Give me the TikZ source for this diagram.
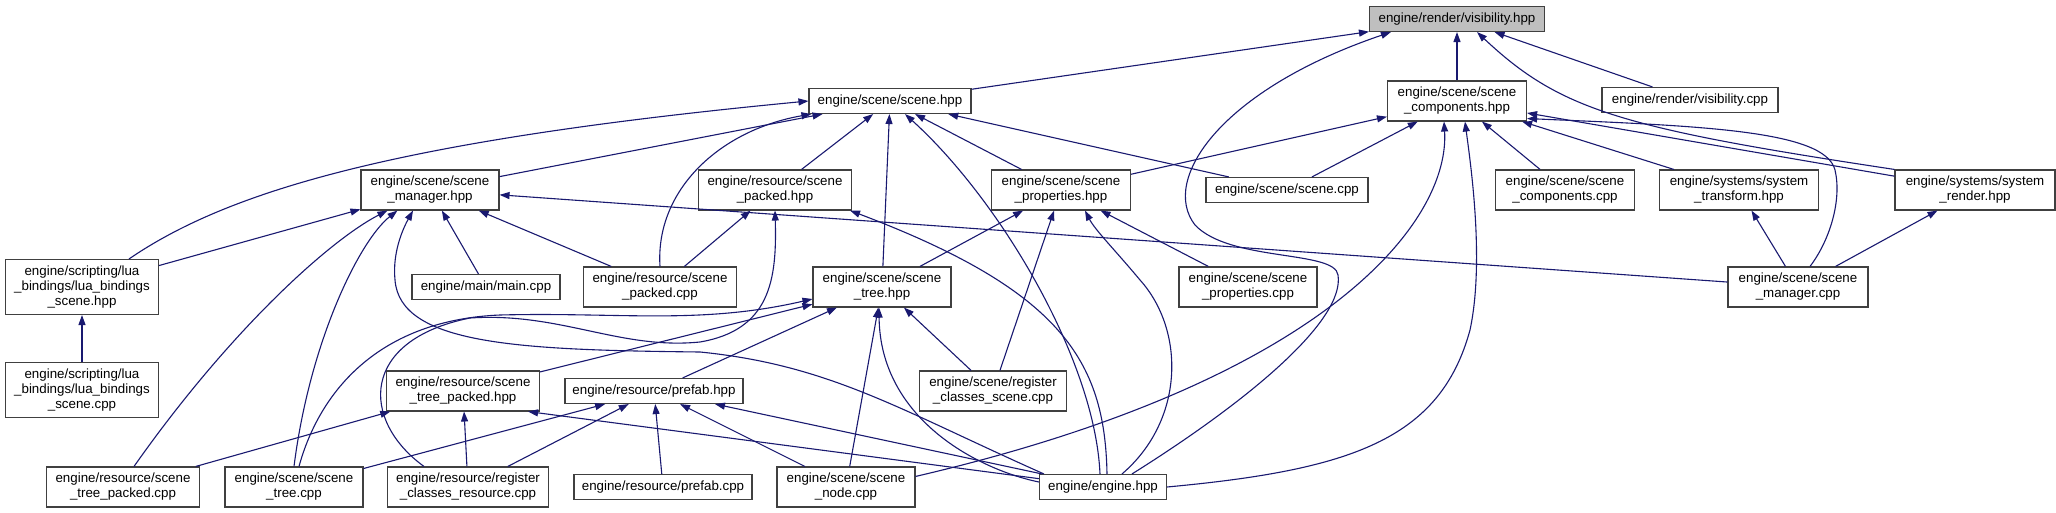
\documentclass[tikz,border=0pt]{standalone}
\usepackage{fontspec}
\setmainfont{Liberation Sans}
\usetikzlibrary{arrows.meta, calc}
\definecolor{edgeblue}{HTML}{191970}
\definecolor{rootgrey}{HTML}{BFBFBF}

\begin{document}
\begin{tikzpicture}[
    x=1pt, y=-1pt,
    hdr/.style={rectangle, draw=black!75, line width=1.1pt, fill=white, align=center, inner sep=0pt, minimum height=40pt, font={\fontsize{13.33}{15}\selectfont}},
    oneline/.style={minimum height=25pt},
    threeline/.style={minimum height=55pt},
    incl/.style={draw=edgeblue, line width=1.1pt, -{Triangle[length=10pt,width=7pt]}}
]
\fill[white] (0,0) rectangle (2056,513);
\useasboundingbox (0,0) rectangle (2056,513);

% Included header
\node[hdr, oneline, fill=rootgrey, minimum width=175pt] (vishpp) at (1457,19) {engine/render/visibility.hpp};

% Direct includers
\node[hdr, oneline, minimum width=162pt] (scenehpp) at (890,101) {engine/scene/scene.hpp};
\node[hdr, minimum width=139pt] (compshpp) at (1457,101) {engine/scene/scene\\\_components.hpp};
\node[hdr, oneline, minimum width=176pt] (viscpp) at (1690,100) {engine/render/visibility.cpp};

% Third row
\node[hdr, minimum width=138pt] (managerhpp) at (430,190) {engine/scene/scene\\\_manager.hpp};
\node[hdr, minimum width=153pt] (packedhpp) at (775,190) {engine/resource/scene\\\_packed.hpp};
\node[hdr, minimum width=139pt] (propshpp) at (1061,190) {engine/scene/scene\\\_properties.hpp};
\node[hdr, oneline, minimum width=162pt] (scenecpp) at (1287,190) {engine/scene/scene.cpp};
\node[hdr, minimum width=139pt] (compscpp) at (1565,190) {engine/scene/scene\\\_components.cpp};
\node[hdr, minimum width=159pt] (transformhpp) at (1739,190) {engine/systems/system\\\_transform.hpp};
\node[hdr, minimum width=160pt] (renderhpp) at (1975,190) {engine/systems/system\\\_render.hpp};

% Fourth row
\node[hdr, threeline, minimum width=153pt] (luahpp) at (82,287) {engine/scripting/lua\\\_bindings/lua\_bindings\\\_scene.hpp};
\node[hdr, oneline, minimum width=148pt] (maincpp) at (486,287) {engine/main/main.cpp};
\node[hdr, minimum width=153pt] (packedcpp) at (660,287) {engine/resource/scene\\\_packed.cpp};
\node[hdr, minimum width=138pt] (treehpp) at (882,287) {engine/scene/scene\\\_tree.hpp};
\node[hdr, minimum width=138pt] (propscpp) at (1248,287) {engine/scene/scene\\\_properties.cpp};
\node[hdr, minimum width=140pt] (managercpp) at (1798,287) {engine/scene/scene\\\_manager.cpp};

% Fifth row
\node[hdr, threeline, minimum width=153pt] (luacpp) at (82,390) {engine/scripting/lua\\\_bindings/lua\_bindings\\\_scene.cpp};
\node[hdr, minimum width=153pt] (treepackedhpp) at (463,391) {engine/resource/scene\\\_tree\_packed.hpp};
\node[hdr, oneline, minimum width=178pt] (prefabhpp) at (654,391) {engine/resource/prefab.hpp};
\node[hdr, minimum width=147pt] (regscenecpp) at (993,391) {engine/scene/register\\\_classes\_scene.cpp};

% Bottom row
\node[hdr, minimum width=153pt] (treepackedcpp) at (123,487) {engine/resource/scene\\\_tree\_packed.cpp};
\node[hdr, minimum width=138pt] (treecpp) at (294,487) {engine/scene/scene\\\_tree.cpp};
\node[hdr, minimum width=161pt] (regrescpp) at (468,487) {engine/resource/register\\\_classes\_resource.cpp};
\node[hdr, oneline, minimum width=178pt] (prefabcpp) at (663,487) {engine/resource/prefab.cpp};
\node[hdr, minimum width=138pt] (nodecpp) at (846,487) {engine/scene/scene\\\_node.cpp};
\node[hdr, oneline, minimum width=127pt] (enginehpp) at (1103,487) {engine/engine.hpp};

% Into visibility.hpp
\draw[incl] (scenehpp) -- (vishpp);
\draw[incl] (compshpp) -- (vishpp);
\draw[incl] (viscpp) -- (vishpp);
\draw[incl] (renderhpp.north west) .. controls (1620,128) and (1560,110) .. ($(vishpp.south)+(20,0)$);
\draw[incl] ($(enginehpp.north)+(29,0)$) .. controls (1250,400) and (1345,320) .. (1338,275) .. controls (1335,250) and (1230,262) .. (1195,225) .. controls (1160,180) and (1220,90) .. ($(vishpp.south west)+(22,0)$);

% Into scene_components.hpp
\draw[incl] (propshpp) -- (compshpp);
\draw[incl] (scenecpp) -- (compshpp);
\draw[incl] (compscpp) -- (compshpp);
\draw[incl] (transformhpp) -- (compshpp);
\draw[incl] (renderhpp) -- (compshpp);
\draw[incl] ($(managercpp.north)+(12,0)$) .. controls (1830,240) and (1842,200) .. (1835,170) .. controls (1825,130) and (1700,126) .. ($(compshpp.south east)+(0,-3)$);
\draw[incl] ($(nodecpp.north east)+(0,10)$) .. controls (1330,380) and (1450,220) .. ($(compshpp.south)+(-13,0)$);
\draw[incl] (enginehpp.east) .. controls (1350,470) and (1440,440) .. (1470,330) .. controls (1485,260) and (1470,160) .. ($(compshpp.south)+(8,0)$);

% Into scene.hpp
\draw[incl] (managerhpp) -- (scenehpp);
\draw[incl] ($(luahpp.north)+(47,0)$) .. controls (230,190) and (400,140) .. (scenehpp.west);
\draw[incl] (packedcpp.north) .. controls (655,190) and (720,130) .. ($(scenehpp.south west)+(3,0)$);
\draw[incl] (packedhpp) -- (scenehpp);
\draw[incl] (treehpp) -- (scenehpp);
\draw[incl] ($(enginehpp.north)+(-3,0)$) .. controls (1095,360) and (1000,200) .. ($(scenehpp.south)+(15,0)$);
\draw[incl] (propshpp) -- (scenehpp);
\draw[incl] (scenecpp) -- (scenehpp);

% Into scene_manager.hpp
\draw[incl] (luahpp) -- (managerhpp);
\draw[incl] ($(treepackedcpp.north)+(11,0)$) .. controls (230,330) and (330,240) .. ($(managerhpp.south west)+(27,0)$);
\draw[incl] (treecpp.north) .. controls (310,340) and (360,240) .. ($(managerhpp.south west)+(37,0)$);
\draw[incl] ($(enginehpp.north west)+(5,0)$) .. controls (900,410) and (830,365) .. (700,352) .. controls (520,350) and (400,345) .. (395,280) .. controls (392,250) and (405,225) .. ($(managerhpp.south)+(-17,0)$);
\draw[incl] (maincpp) -- (managerhpp);
\draw[incl] (packedcpp) -- (managerhpp);
\draw[incl] (managercpp) -- (managerhpp);

% Into lua_bindings_scene.hpp
\draw[incl] (luacpp) -- (luahpp);

% Into resource scene_packed.hpp
\draw[incl] (packedcpp) -- (packedhpp);
\draw[incl] ($(regrescpp.north)+(-44,0)$) .. controls (360,420) and (360,340) .. (470,318) .. controls (560,312) and (620,350) .. (700,342) .. controls (770,330) and (777,280) .. (packedhpp.south);
\draw[incl] ($(enginehpp.north)+(4,0)$) .. controls (1105,360) and (1060,290) .. ($(packedhpp.south east)+(-2,0)$);

% Into scene_properties.hpp
\draw[incl] (treehpp) -- (propshpp);
\draw[incl] (regscenecpp) -- (propshpp);
\draw[incl] ($(enginehpp.north)+(19,0)$) .. controls (1185,420) and (1185,330) .. (1140,280) .. controls (1115,250) and (1095,230) .. ($(propshpp.south)+(24,0)$);
\draw[incl] (propscpp) -- (propshpp);

% Into scene_tree.hpp
\draw[incl] (treepackedhpp) -- (treehpp);
\draw[incl] (prefabhpp) -- (treehpp);
\draw[incl] ($(treecpp.north)+(5,0)$) .. controls (320,390) and (380,320) .. (500,315) .. controls (620,312) and (700,325) .. ($(treehpp.west)+(0,12)$);
\draw[incl] (nodecpp) -- (treehpp);
\draw[incl] ($(enginehpp.west)+(0,-5)$) .. controls (980,470) and (880,420) .. ($(treehpp.south)+(-3,0)$);
\draw[incl] (regscenecpp) -- (treehpp);

% Into scene_tree_packed.hpp
\draw[incl] (treepackedcpp) -- (treepackedhpp);
\draw[incl] (regrescpp) -- (treepackedhpp);
\draw[incl] (enginehpp) -- ($(treepackedhpp.south east)+(-12,0)$);

% Into prefab.hpp
\draw[incl] (treecpp) -- (prefabhpp);
\draw[incl] (regrescpp) -- (prefabhpp);
\draw[incl] (prefabcpp) -- (prefabhpp);
\draw[incl] (nodecpp) -- (prefabhpp);
\draw[incl] (enginehpp) -- (prefabhpp);

% Into system headers
\draw[incl] (managercpp) -- (transformhpp);
\draw[incl] (managercpp) -- (renderhpp);

\end{tikzpicture}
\end{document}
